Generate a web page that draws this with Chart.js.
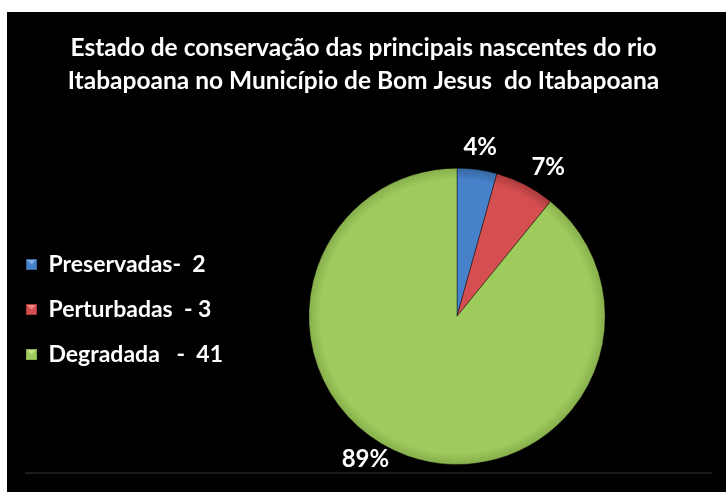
<!DOCTYPE html>
<html>
<head>
<meta charset="utf-8">
<script src="https://cdn.jsdelivr.net/npm/chart.js@4"></script>
<style>
  html, body { margin: 0; padding: 0; background: #fff; }
  #wrap { position: relative; width: 726px; height: 492px; overflow: hidden; }
  #panel { position: absolute; left: 7px; top: 12px; right: 0; bottom: 0; background: #000; }
  #rule { position: absolute; left: 25px; width: 687px; top: 472px; height: 2px; background: #1b1b1b; }
  #box { position: absolute; left: 0; top: 12px; width: 726px; height: 480px; }
</style>
</head>
<body>
<div id="wrap">
  <div id="panel"></div>
  <div id="rule"></div>
  <div id="box"><canvas id="pieChart"></canvas></div>
</div>
<script>
const titleLines = [
  "Estado de conservação das principais nascentes do rio",
  "Itabapoana no Município de Bom Jesus  do Itabapoana"
];
const categories = ["Preservadas", "Perturbadas", "Degradada"];
const counts = [2, 3, 41];
const legendLabels = ["Preservadas-  2", "Perturbadas  - 3", "Degradada   -  41"];

const sliceColors = ["#4781c9", "#d54f50", "#9dcb5c"];
const rimColors = ["#35659f", "#a83a3c", "#86ad4c"];
const lightColors = ["#7fb0ea", "#ef8a8a", "#c4e58e"];

function makeMarker(i) {
  const c = document.createElement("canvas");
  c.width = 11;
  c.height = 11;
  const g = c.getContext("2d");
  g.fillStyle = rimColors[i];
  g.fillRect(0, 0, 11, 11);
  g.fillStyle = sliceColors[i];
  g.fillRect(1, 1, 9, 9);
  g.fillStyle = lightColors[i];
  g.beginPath();
  g.moveTo(1, 1);
  g.lineTo(10, 1);
  g.lineTo(5.5, 5.5);
  g.closePath();
  g.fill();
  return c;
}
const markers = categories.map((_, i) => makeMarker(i));

function sliceFill(context) {
  const i = context.dataIndex;
  const chart = context.chart;
  const area = chart.chartArea;
  if (!area) return sliceColors[i];
  const cx = (area.left + area.right) / 2;
  const cy = (area.top + area.bottom) / 2;
  const r = Math.min(area.right - area.left, area.bottom - area.top) / 2;
  const grad = chart.ctx.createRadialGradient(cx, cy, 0, cx, cy, r);
  grad.addColorStop(0, sliceColors[i]);
  grad.addColorStop(0.92, sliceColors[i]);
  grad.addColorStop(1, rimColors[i]);
  return grad;
}

// percentages outside the slices, a bit like Excel's best fit
const percentLabels = {
  id: "percentLabels",
  afterDatasetsDraw(chart) {
    const ctx = chart.ctx;
    const meta = chart.getDatasetMeta(0);
    const total = counts.reduce((a, b) => a + b, 0);
    const shift = [0, 4, 13];
    const gap = [22, 27, 22];
    ctx.save();
    ctx.font = "bold 24px Lato";
    ctx.fillStyle = "#fff";
    ctx.textAlign = "center";
    ctx.textBaseline = "middle";
    meta.data.forEach((arc, i) => {
      const p = arc.getProps(["x", "y", "startAngle", "endAngle", "outerRadius"], true);
      const a = (p.startAngle + p.endAngle) / 2 + shift[i] * Math.PI / 180;
      const d = p.outerRadius + gap[i];
      ctx.fillText(Math.round(counts[i] / total * 100) + "%", p.x + Math.cos(a) * d, p.y + Math.sin(a) * d);
    });
    ctx.restore();
  }
};

// legend box is kept narrow for the layout, let its text run past it
const legendOverflow = {
  id: "legendOverflow",
  afterLayout(chart) {
    if (chart.legend) chart.legend.right = chart.legend.left + 260;
  }
};

new Chart(document.getElementById("pieChart"), {
  type: "pie",
  data: {
    labels: categories,
    datasets: [{
      data: counts,
      backgroundColor: sliceFill,
      borderColor: "rgba(0,0,0,0.4)",
      borderWidth: 1,
      hoverOffset: 0
    }]
  },
  options: {
    responsive: true,
    maintainAspectRatio: false,
    animation: false,
    layout: {
      padding: { left: 4, right: 3, top: 0, bottom: 27 }
    },
    plugins: {
      title: {
        display: true,
        text: titleLines,
        color: "#fff",
        font: { family: "Lato", size: 24.5, weight: "bold", lineHeight: 1.34 },
        padding: { top: 20, bottom: 70 }
      },
      legend: {
        position: "left",
        maxWidth: 187,
        title: {
          display: true,
          text: " ",
          font: { size: 10, lineHeight: 1 },
          padding: { top: 132, bottom: 0 }
        },
        labels: {
          color: "#fff",
          font: { family: "Lato", size: 23, weight: "bold" },
          boxWidth: 11,
          boxHeight: 11,
          usePointStyle: true,
          padding: 22,
          generateLabels: () => legendLabels.map((text, i) => ({
            text,
            fillStyle: sliceColors[i],
            fontColor: "#fff",
            strokeStyle: "transparent",
            lineWidth: 0,
            pointStyle: markers[i],
            hidden: false,
            index: i
          }))
        }
      },
      tooltip: { enabled: false }
    }
  },
  plugins: [percentLabels, legendOverflow]
});
</script>
</body>
</html>
